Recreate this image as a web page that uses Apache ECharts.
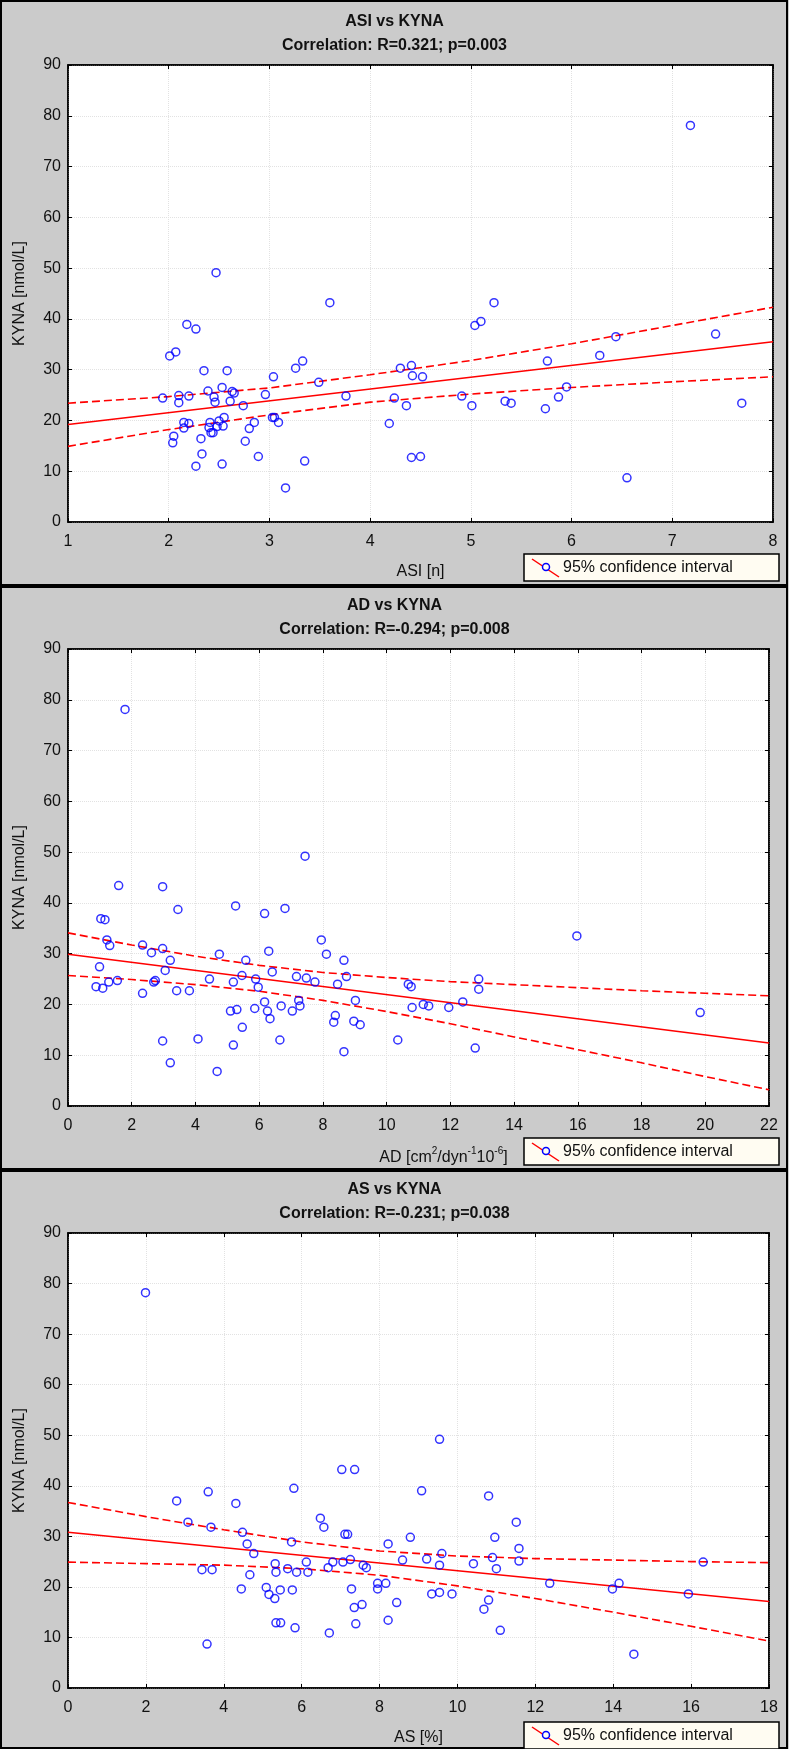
<!DOCTYPE html>
<html>
<head>
<meta charset="utf-8">
<script src="https://cdn.jsdelivr.net/npm/echarts@6/dist/echarts.min.js"></script>
<style>
html,body{margin:0;padding:0;background:#cbcbcb;}
#c{width:789px;height:1749px;}
</style>
</head>
<body>
<div id="c"></div>
<script>
// ---------- Panel 1: ASI vs KYNA ----------
const asiX = [1.94,2.01,2.07,2.18,2.27,2.47,3.60,2.35,2.58,3.26,3.33,3.04,3.49,2.10,2.10,2.20,2.39,2.45,2.46,2.53,2.61,2.63,2.65,2.74,2.96,3.76,2.15,2.20,2.15,2.41,2.40,2.42,2.44,2.48,2.50,2.54,2.55,2.05,2.04,2.32,2.33,2.27,2.53,2.76,2.80,2.85,2.89,3.03,3.05,3.09,3.35,3.16,4.19,4.24,4.30,
  7.18,5.23,5.04,5.10,6.44,7.43,6.28,5.76,4.41,4.42,4.52,4.36,4.91,5.01,5.34,5.40,5.74,5.87,5.95,7.69,4.41,4.50,6.55];
const asiKyna = [24.4,32.7,33.5,38.9,38.0,49.1,43.2,29.8,29.8,30.3,31.7,28.6,27.5,24.9,23.5,24.8,25.8,24.6,23.6,26.5,23.8,25.7,25.4,22.9,25.1,24.8,19.6,19.4,18.5,19.6,18.6,17.6,17.6,18.8,19.9,18.9,20.6,16.9,15.6,16.4,13.4,11.0,11.4,15.9,18.4,19.6,12.9,20.6,20.6,19.6,12.0,6.7,19.4,24.4,30.3,
  78.1,43.2,38.7,39.5,36.5,37.0,32.8,31.7,30.8,28.8,28.6,22.9,24.8,22.9,23.8,23.4,22.3,24.6,26.6,23.4,12.7,12.9,8.7];
const asiFitX = [1, 8];
const asiFitY = [19.2, 35.5];
const asiCiX = [1,2,3,4,5,6,7,8];
const asiCiUpper = [23.4,24.7,26.4,29.0,31.8,35.1,38.7,42.3];
const asiCiLower = [14.9,18.2,21.1,23.6,25.2,26.5,27.6,28.6];

// ---------- Panel 2: AD vs KYNA ----------
const adX = [1.79,1.59,2.97,3.45,1.03,1.16,5.26,6.17,6.81,7.44,1.22,1.31,2.34,2.62,2.97,3.21,3.05,0.99,0.88,1.09,1.28,1.55,2.34,2.69,2.74,3.41,3.81,4.44,4.75,5.19,5.46,5.58,5.89,5.97,6.30,6.41,7.17,7.48,7.75,7.95,8.11,8.66,8.74,8.46,5.10,5.30,5.86,6.17,6.26,6.34,6.69,7.04,7.24,7.28,5.47,8.34,8.39,8.97,9.17,9.02,2.97,3.21,4.08,4.68,5.19,6.65,8.66,10.35,
  15.97,10.68,10.77,10.80,11.15,11.32,11.95,12.39,12.89,12.89,12.78,19.84];
const adKyna = [78.1,43.4,43.2,38.7,36.9,36.7,39.4,37.9,38.9,49.2,32.7,31.6,31.7,30.2,31.0,28.7,26.7,27.4,23.5,23.2,24.4,24.7,22.2,24.4,24.7,22.7,22.7,25.0,29.9,24.4,25.7,28.7,25.0,23.4,30.5,26.4,25.5,25.2,24.4,32.7,29.9,28.7,25.5,24.0,18.7,19.0,19.2,20.5,18.7,17.2,19.7,18.7,20.8,19.7,15.5,16.5,17.8,16.7,16.0,20.8,12.8,8.5,13.2,6.8,12.0,13.0,10.7,13.0,
  33.5,24.0,23.5,19.4,20.0,19.7,19.4,20.5,25.0,23.0,11.4,18.4];
const adFitX = [0, 22];
const adFitY = [29.9, 12.4];
const adCiX = [0,2,4,6,8,10,12,14,16,18,20,22];
const adCiUpper = [34.1,31.7,29.5,27.7,26.3,25.3,24.5,23.9,23.3,22.7,22.2,21.7];
const adCiLower = [25.7,24.9,23.9,22.6,20.8,18.6,16.2,13.6,11.1,8.5,5.8,3.2];

// ---------- Panel 3: AS vs KYNA ----------
const asX = [1.99,2.79,3.08,3.60,3.67,3.44,3.70,3.57,4.31,4.48,4.60,4.77,4.67,4.45,5.09,5.16,5.31,5.32,5.34,5.45,5.34,5.46,5.64,5.74,5.76,5.80,5.87,5.83,6.12,6.16,6.48,6.57,6.68,6.80,6.71,7.03,7.36,7.11,7.18,7.06,7.25,7.28,7.35,7.39,7.55,7.58,7.66,7.95,7.95,8.16,8.22,8.22,8.44,8.59,
  9.54,9.08,10.80,11.51,8.79,10.96,11.58,9.21,9.60,9.54,10.41,10.90,11.00,11.58,12.37,13.98,14.15,15.93,16.31,9.34,9.54,9.86,10.80,10.68,11.10,14.53];
const asKyna = [78.2,37.0,32.8,38.8,31.8,23.4,23.4,8.7,36.5,30.8,28.5,26.6,22.4,19.6,19.9,18.5,17.7,24.6,22.9,19.4,12.9,12.9,23.6,28.9,19.4,39.5,22.9,11.9,24.9,22.9,33.6,31.8,23.8,24.9,10.9,43.2,43.2,30.4,30.4,24.9,25.4,19.6,15.9,12.7,16.5,24.3,23.8,20.7,19.6,20.7,28.5,13.4,16.9,25.3,
  49.2,39.0,38.0,32.8,29.8,29.8,27.6,25.5,26.6,24.3,24.6,25.8,23.6,25.1,20.7,19.6,20.7,18.6,24.9,18.6,18.9,18.6,17.4,15.6,11.4,6.7];
const asFitX = [0, 18];
const asFitY = [30.8, 17.1];
const asCiX = [0,2,4,6,8,10,12,14,16,18];
const asCiUpper = [36.7,33.9,31.3,28.9,27.1,26.1,25.6,25.3,25.0,24.8];
const asCiLower = [24.9,24.6,24.3,23.6,22.3,20.2,17.7,15.0,12.2,9.3];

const yTicksMin = 0, yTicksMax = 90, yTicksStep = 10;
const yName = 'KYNA [nmol/L]';
const legendLabel = '95% confidence interval';

const panels = [
  {title:'ASI vs KYNA', sub:'Correlation: R=0.321; p=0.003', xName:'ASI [n]', xs:asiX, ys:asiKyna,
   xmin:1, xmax:8, xint:1, ciX:asiCiX, up:asiCiUpper, lo:asiCiLower, fitX:asiFitX, fitY:asiFitY, w:705, nameShift:0},
  {title:'AD vs KYNA', sub:'Correlation: R=-0.294; p=0.008', xName:'{n|AD [cm}{s|2}{n|/dyn}{s|-1}{n|10}{s|-6}{n|]}', xs:adX, ys:adKyna,
   xmin:0, xmax:22, xint:2, ciX:adCiX, up:adCiUpper, lo:adCiLower, fitX:adFitX, fitY:adFitY, w:701, nameShift:50},
  {title:'AS vs KYNA', sub:'Correlation: R=-0.231; p=0.038', xName:'AS [%]', xs:asX, ys:asKyna,
   xmin:0, xmax:18, xint:2, ciX:asCiX, up:asCiUpper, lo:asCiLower, fitX:asFitX, fitY:asFitY, w:701, nameShift:0}
];

const FONT = '"Liberation Sans", Arial, Helvetica, sans-serif';
const offs = [0, 584, 1168];
const grids = [], xAxes = [], yAxes = [], series = [], titles = [], graphics = [];

panels.forEach((p, i) => {
  const o = offs[i];
  grids.push({left:68, top:o+65, width:p.w, height:457, show:true, backgroundColor:'#ffffff',
              borderColor:'#000', borderWidth:1.5});
  const axLine = {show:true, onZero:false, lineStyle:{color:'#000', width:1.5}};
  const axTick = {show:true, inside:true, length:4, lineStyle:{color:'#000', width:1}};
  xAxes.push({gridIndex:i, type:'value', position:'bottom', min:p.xmin, max:p.xmax, interval:p.xint,
    name:p.xName, nameLocation:'middle', nameGap:40,
    nameTextStyle:{color:'#111', fontSize:16, fontFamily:FONT, lineHeight:20, padding:[0,0,0,p.nameShift],
      rich:{n:{fontSize:16, fontFamily:FONT, color:'#111', lineHeight:20, verticalAlign:'bottom'},
            s:{fontSize:10, fontFamily:FONT, color:'#111', lineHeight:20, verticalAlign:'top', padding:[0,0,6,0]}}},
    axisLine:axLine, axisTick:axTick,
    axisLabel:{margin:12, color:'#111', fontSize:16, fontFamily:FONT},
    splitLine:{show:true, lineStyle:{color:'#e2e2e2', type:'dotted', width:1}}});
  xAxes.push({gridIndex:i, type:'value', position:'top', min:p.xmin, max:p.xmax, interval:p.xint,
    axisLine:axLine, axisTick:axTick, axisLabel:{show:false}, splitLine:{show:false}});
  yAxes.push({gridIndex:i, type:'value', position:'left', min:yTicksMin, max:yTicksMax, interval:yTicksStep,
    name:yName, nameLocation:'middle', nameGap:40,
    nameTextStyle:{color:'#111', fontSize:16, fontFamily:FONT},
    axisLine:axLine, axisTick:axTick,
    axisLabel:{margin:7, color:'#111', fontSize:16, fontFamily:FONT},
    splitLine:{show:true, lineStyle:{color:'#e2e2e2', type:'dotted', width:1}}});
  yAxes.push({gridIndex:i, type:'value', position:'right', min:yTicksMin, max:yTicksMax, interval:yTicksStep,
    axisLine:axLine, axisTick:axTick, axisLabel:{show:false}, splitLine:{show:false}});

  const xa = 2*i, ya = 2*i;
  series.push({type:'line', xAxisIndex:xa, yAxisIndex:ya, showSymbol:false, silent:true, z:3,
    data:p.ciX.map((x,k)=>[x,p.up[k]]), lineStyle:{color:'#ff0000', width:1.6, type:[8,4]}});
  series.push({type:'line', xAxisIndex:xa, yAxisIndex:ya, showSymbol:false, silent:true, z:3,
    data:p.ciX.map((x,k)=>[x,p.lo[k]]), lineStyle:{color:'#ff0000', width:1.6, type:[8,4]}});
  series.push({type:'line', xAxisIndex:xa, yAxisIndex:ya, showSymbol:false, silent:true, z:3,
    data:p.fitX.map((x,k)=>[x,p.fitY[k]]), lineStyle:{color:'#ff0000', width:1.6}});
  series.push({type:'scatter', xAxisIndex:xa, yAxisIndex:ya, symbol:'circle', symbolSize:8, z:4,
    data:p.xs.map((x,k)=>[x,p.ys[k]]),
    itemStyle:{color:'rgba(255,255,255,0)', borderColor:'#0000ff', borderWidth:1.5}});

  titles.push({text:p.title, subtext:p.sub, left:'center', top:o+12, padding:0, itemGap:4,
    textStyle:{fontSize:16, fontWeight:'bold', color:'#111', fontFamily:FONT, lineHeight:20},
    subtextStyle:{fontSize:16, fontWeight:'bold', color:'#111', fontFamily:FONT, lineHeight:20}});

  // panel frame
  const ph = (i === 2) ? (1749 - o - 2) : 586;
  graphics.push({type:'rect', z:50, silent:true, shape:{x:1, y:o+1, width:786, height:ph},
    style:{fill:'none', stroke:'#000', lineWidth:2}});
  // legend box
  graphics.push({type:'rect', z:50, silent:true, shape:{x:524, y:o+554, width:255, height:27},
    style:{fill:'#fffcf2', stroke:'#000', lineWidth:1.5}});
  graphics.push({type:'line', z:51, silent:true, shape:{x1:532, y1:o+559, x2:559, y2:o+577},
    style:{stroke:'#ff0000', lineWidth:1.5}});
  graphics.push({type:'circle', z:52, silent:true, shape:{cx:546, cy:o+567, r:3.5},
    style:{fill:'#fffcf2', stroke:'#0000ff', lineWidth:1.5}});
  graphics.push({type:'text', z:52, silent:true, x:563, y:o+568,
    style:{text:legendLabel, fill:'#111', fontSize:16, fontFamily:FONT, verticalAlign:'middle', align:'left'}});
});

const chart = echarts.init(document.getElementById('c'));
chart.setOption({
  animation:false,
  backgroundColor:'#cbcbcb',
  title:titles,
  grid:grids,
  xAxis:xAxes,
  yAxis:yAxes,
  series:series,
  graphic:graphics
});
</script>
</body>
</html>
